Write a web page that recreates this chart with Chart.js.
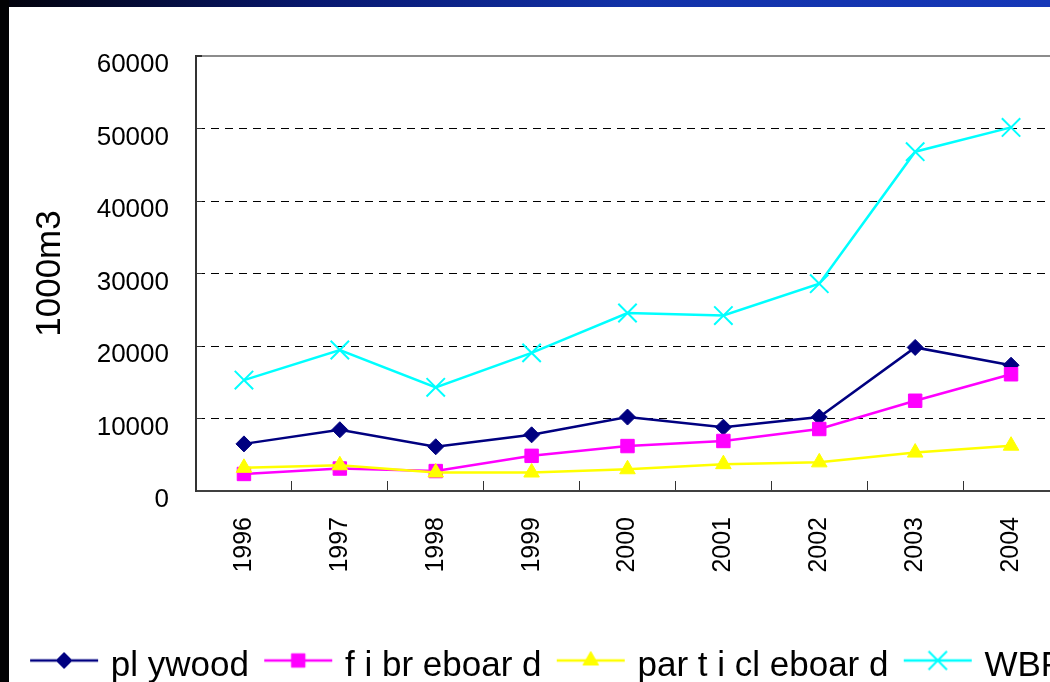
<!DOCTYPE html>
<html>
<head>
<meta charset="utf-8">
<script src="https://cdn.jsdelivr.net/npm/chart.js@4.4.1/dist/chart.umd.min.js"></script>
<style>
  html, body { margin: 0; padding: 0; background: #fff; overflow: hidden; }
  body { width: 1050px; height: 682px; position: relative; }
  #wrap { position: absolute; left: 0; top: 0; width: 1081px; height: 694px; }
  .band-top {
    position: absolute; left: 0; top: 0; width: 1050px; height: 7px; z-index: 2;
    background: linear-gradient(to right, #02020a 0%, #081870 30%, #1232a8 60%, #1638b8 100%);
  }
  .band-left { position: absolute; left: 0; top: 0; width: 9px; height: 682px; background: #020204; z-index: 3; }
</style>
</head>
<body>
<div class="band-top"></div>
<div class="band-left"></div>
<div id="wrap"><canvas id="woodChart" width="1081" height="694"></canvas></div>

<script>
// data (1000 m3)
const years = ['1996', '1997', '1998', '1999', '2000', '2001', '2002', '2003', '2004'];
const plywood = [6500, 8450, 6100, 7750, 10200, 8800, 10200, 19800, 17350];
const fibreboard = [2350, 3100, 2750, 4850, 6200, 6900, 8550, 12450, 16100];
const particleboard = [3200, 3550, 2550, 2550, 3000, 3700, 3950, 5300, 6250];
const wbp = [15300, 19450, 14300, 19050, 24550, 24200, 28600, 46800, 50150];
const legendNames = ['pl ywood', 'f i br eboar d', 'par t i cl eboar d', 'WBP'];
const yTicks = [0, 10000, 20000, 30000, 40000, 50000, 60000];

const FONT = "'Liberation Sans', Arial, sans-serif";

const seriesStyle = [
  { color: '#000080', point: 'rectRot', radius: 8, bw: 1 },
  { color: '#FF00FF', point: 'rect', radius: 9.5, bw: 1 },
  { color: '#FFFF00', point: 'triangle', radius: 9, bw: 1 },
  { color: '#00FFFF', point: 'crossRot', radius: 13, bw: 2 }
];

// line + marker swatch used as the legend point style
function legendSwatch(s) {
  const c = document.createElement('canvas');
  c.width = 88; c.height = 40;
  const g = c.getContext('2d');
  const cy = 20 - 6;
  g.strokeStyle = s.color;
  g.fillStyle = s.color;
  g.lineWidth = 2.5;
  g.beginPath(); g.moveTo(19, cy); g.lineTo(87, cy); g.stroke();
  g.lineWidth = s.bw;
  Chart.helpers.drawPoint(g, { pointStyle: s.point, radius: s.radius, rotation: 0, borderWidth: s.bw }, 53, cy);
  return c;
}

const seriesValues = [plywood, fibreboard, particleboard, wbp];
const datasets = seriesValues.map((vals, i) => {
  const s = seriesStyle[i];
  return {
    label: legendNames[i],
    data: vals,
    borderColor: s.color,
    backgroundColor: s.color,
    borderWidth: 2.5,
    pointStyle: s.point,
    pointRadius: s.radius,
    pointBorderWidth: s.bw,
    pointBackgroundColor: s.color,
    pointBorderColor: s.color,
    tension: 0,
    order: 4 - i
  };
});

new Chart(document.getElementById('woodChart'), {
  type: 'line',
  data: { labels: years, datasets: datasets },
  options: {
    responsive: false,
    animation: false,
    devicePixelRatio: 1,
    layout: { padding: { top: 56, right: 0, left: 0, bottom: 0 } },
    plugins: {
      tooltip: { enabled: false },
      legend: {
        position: 'bottom',
        labels: {
          font: { family: FONT, size: 35 },
          color: '#000',
          usePointStyle: true,
          pointStyleWidth: 76.5,
          padding: 2,
          generateLabels: () => legendNames.map((name, i) => ({
            text: name,
            pointStyle: legendSwatch(seriesStyle[i]),
            fillStyle: seriesStyle[i].color,
            strokeStyle: seriesStyle[i].color,
            lineWidth: 0,
            hidden: false,
            datasetIndex: i
          }))
        }
      }
    },
    scales: {
      x: {
        offset: true,
        grid: {
          offset: true,
          drawOnChartArea: false,
          tickLength: -10,
          color: '#333',
          tickColor: '#333'
        },
        border: { color: '#404040', width: 2 },
        ticks: {
          font: { family: FONT, size: 25 },
          color: '#000',
          minRotation: 90,
          maxRotation: 90,
          padding: 36,
          autoSkip: false
        },
        afterFit: (s) => {
          s.paddingLeft = 0;
          s.paddingRight = s.chart.width - 1059;
          s.height = s.chart.height - 491 - s.chart.legend.height;
        }
      },
      y: {
        min: 0,
        max: 60000,
        afterBuildTicks: (s) => { s.ticks = yTicks.map(v => ({ value: v })); },
        ticks: {
          font: { family: FONT, size: 26 },
          color: '#000',
          padding: 33,
          labelOffset: 9,
          callback: (v) => String(v)
        },
        grid: {
          tickLength: -6,
          tickColor: '#333',
          color: (c) => c.tick.value === 0 ? 'rgba(0,0,0,0)' : (c.tick.value === 60000 ? '#8c8c8c' : '#000'),
          lineWidth: (c) => c.tick.value === 60000 ? 2 : 1
        },
        border: {
          color: '#333',
          width: 2,
          dash: (c) => c.tick && c.tick.value === 60000 ? [] : [8, 6]
        },
        title: {
          display: true,
          text: '1000m3',
          font: { family: FONT, size: 35 },
          color: '#000',
          padding: { top: 29, bottom: 0 }
        },
        afterFit: (s) => { s.width = 196; }
      }
    }
  }
});
</script>
</body>
</html>
